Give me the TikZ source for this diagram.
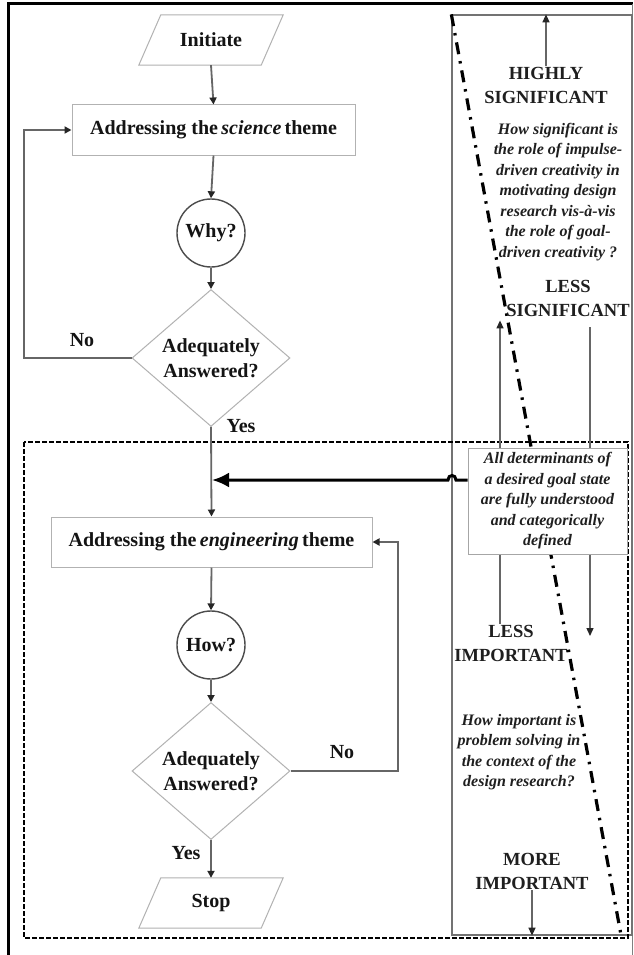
\documentclass[tikz,border=0pt]{standalone}
\usepackage{fontspec}
\setmainfont{Liberation Serif}
\usetikzlibrary{arrows.meta,shapes.geometric,calc}

\tikzset{
  flowtext/.style={font=\fontsize{20}{25}\selectfont\bfseries, text=black!92},
  procbox/.style={flowtext, rectangle, draw=black!30, line width=1pt, minimum height=50, inner sep=0},
  iobox/.style={flowtext, rectangle, minimum width=122, minimum height=50, inner sep=0},
  iooutline/.style={draw=black!30, line width=1pt},
  askcircle/.style={flowtext, circle, draw=black!70, line width=1.4pt, minimum size=68, inner sep=0},
  decision/.style={flowtext, diamond, draw=black!30, line width=1pt, minimum width=158, minimum height=112, inner sep=0, align=center},
  conn/.style={draw=black!60, line width=1.8pt, -{Triangle[length=7pt,width=7pt,color=black!85]}},
  flowlabel/.style={flowtext},
  panelline/.style={draw=black!55, line width=1.3pt},
  panelarrow/.style={draw=black!60, line width=1.3pt, -{Triangle[length=8pt,width=7pt,color=black!85]}},
  capslabel/.style={font=\fontsize{18.5}{24}\selectfont\bfseries, text=black!88, align=center, inner sep=1pt},
  question/.style={font=\fontsize{16}{20.5}\selectfont\bfseries\itshape, text=black!88, align=center, inner sep=1pt},
  dashdotline/.style={draw=black, line width=3.2pt, dash pattern=on 12pt off 7pt on 2.5pt off 7pt},
  groupbox/.style={draw=black, line width=2.1pt, dash pattern=on 5pt off 2pt},
  bigarrow/.style={draw=black, line width=3pt, -{Latex[length=17pt,width=15pt]}},
  statebox/.style={question, rectangle, draw=black!35, fill=white, line width=1pt, minimum width=159, minimum height=106, inner sep=0}
}

\begin{document}
\begin{tikzpicture}[x=1pt,y=-1pt]
  \useasboundingbox (0,0) rectangle (633,955);
  \fill[white] (0,0) rectangle (633,955);

  % outer frame
  \draw[line width=3pt] (8,955) -- (8,4) -- (633,4);
  \draw[draw=black!50, line width=1pt] (632,4) -- (632,955);

  % right-hand panel and its diagonal
  \node[panelline, rectangle, minimum width=180, minimum height=920, inner sep=0] (panel) at (542,475) {};
  \coordinate (ddend) at (621,935);
  \draw[dashdotline] (panel.north west) -- (ddend);

  % lower dashed group
  \draw[groupbox] (24,442) rectangle (628,938);

  % ---------------- flowchart ----------------
  \node[iobox] (init) at (211,40) {Initiate};
  \draw[iooutline] ($(init.south west)+(-11,0)$) -- ($(init.south east)+(-11,0)$)
     -- ($(init.north east)+(11,0)$) -- ($(init.north west)+(11,0)$) -- cycle;

  \node[procbox, minimum width=283] (sci) at (213.5,130) {Addressing the\,\textit{science}\,theme};
  \node[askcircle] (why) at (211,233) {Why?};
  \node[decision] (q1) at (211,358) {Adequately\\Answered?};

  \node[procbox, minimum width=321] (eng) at (211.5,542) {Addressing the\,\textit{engineering}\,theme};
  \node[askcircle] (how) at (211,645) {How?};
  \node[decision] (q2) at (211,771) {Adequately\\Answered?};

  \node[iobox] (stop) at (211,903) {Stop};
  \draw[iooutline] ($(stop.south west)+(-11,0)$) -- ($(stop.south east)+(-11,0)$)
     -- ($(stop.north east)+(11,0)$) -- ($(stop.north west)+(11,0)$) -- cycle;

  \draw[conn] (init.south) -- (sci.north);
  \draw[conn] (sci.south) -- (why.north);
  \draw[conn] (why.south) -- (q1.north);
  \coordinate (loopA) at (24,358);
  \coordinate (loopB) at (24,130);
  \draw[conn] (q1.west) -- (loopA) -- (loopB) -- (sci.west);
  \node[flowlabel] (no1) at (82,340) {No};

  \draw[conn] (q1.south) -- (eng.north);
  \node[flowlabel] (yes1) at (241,426) {Yes};

  \draw[conn] (eng.south) -- (how.north);
  \draw[conn] (how.south) -- (q2.north);
  \coordinate (loopC) at (398,771);
  \coordinate (loopD) at (398,542);
  \draw[conn] (q2.east) -- (loopC) -- (loopD) -- (eng.east);
  \node[flowlabel] (no2) at (342,752) {No};

  \draw[conn] (q2.south) -- (stop.north);
  \node[flowlabel] (yes2) at (186,853) {Yes};

  % ---------------- right-hand panel texts ----------------
  \node[capslabel] (hs) at (546,85) {HIGHLY\\SIGNIFICANT};
  \draw[panelarrow] (hs.north) -- (hs.north |- panel.north);

  \node[question] (qsig) at (558,192) {How significant is\\the role of impulse-\\driven creativity in\\motivating design\\research vis-\`a-vis\\the role of goal-\\driven creativity ?};

  \node[capslabel] (ls) at (568,298) {LESS\\SIGNIFICANT};
  \node[capslabel] (li) at (511,643) {LESS\\IMPORTANT};

  \coordinate (xa) at (500,0);
  \coordinate (xb) at (590,0);
  \coordinate (tipb) at (590,636);
  \draw[panelarrow] (xa |- li.north) -- ($(xa |- ls.south)+(0,3)$);
  \draw[panelarrow] ($(xb |- ls.south)+(0,10)$) -- (tipb);

  \node[question] (qimp) at (519,752) {How important is\\problem solving in\\the context of the\\design research?};

  \node[capslabel] (mi) at (532,871) {MORE\\IMPORTANT};
  \draw[panelarrow] (mi.south) -- (mi.south |- panel.south);

  % goal-state box and its link into the flowchart
  \node[statebox] (det) at (547.5,501) {All determinants of\\a desired goal state\\are fully understood\\and categorically\\defined};
  \coordinate (join) at (212,480);
  \draw[bigarrow] (det.west |- join) -- (456,480) .. controls (456,474) and (448,474) .. (448,480) -- (join);
\end{tikzpicture}
\end{document}
